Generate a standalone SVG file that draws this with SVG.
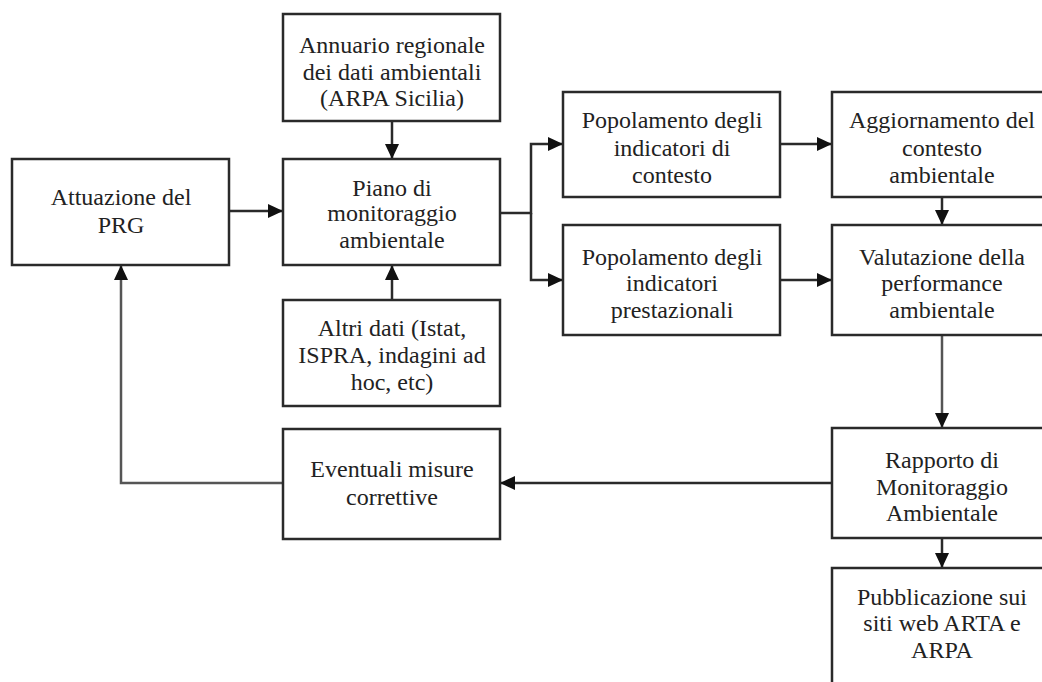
<svg xmlns="http://www.w3.org/2000/svg" width="1042" height="682" viewBox="0 0 1042 682">
  <style>
    .box { fill: #ffffff; stroke: #2a2a2a; stroke-width: 2.5; }
    .lbl { font-family: "Liberation Serif", "Times New Roman", serif; font-size: 24px; fill: #222222; text-anchor: middle; }
    .con { fill: none; stroke: #2a2a2a; stroke-width: 2.5; }
    .con.light { stroke: #555555; }
  </style>
  <defs>
    <marker id="ah" markerUnits="userSpaceOnUse" markerWidth="16" markerHeight="14" refX="15" refY="7" orient="auto">
      <path d="M0,0 L15,7 L0,14 z" fill="#111111"/>
    </marker>
  </defs>
  <rect x="0" y="0" width="1042" height="682" fill="#ffffff"/>

  <g id="connectors">
    <path class="con" d="M392,121 V159" marker-end="url(#ah)"/>
    <path class="con" d="M392,300 V265" marker-end="url(#ah)"/>
    <path class="con" d="M229,211 H283" marker-end="url(#ah)"/>
    <path class="con" d="M500,213 H531 V144 H563" marker-end="url(#ah)"/>
    <path class="con" d="M531,213 V280 H563" marker-end="url(#ah)"/>
    <path class="con" d="M780,144 H832" marker-end="url(#ah)"/>
    <path class="con" d="M780,280 H832" marker-end="url(#ah)"/>
    <path class="con" d="M942,197 V225" marker-end="url(#ah)"/>
    <path class="con light" d="M942,335 V428" marker-end="url(#ah)"/>
    <path class="con" d="M942,538 V568" marker-end="url(#ah)"/>
    <path class="con" d="M832,483 H500" marker-end="url(#ah)"/>
    <path class="con light" d="M283,483 H121 V265" marker-end="url(#ah)"/>
  </g>

  <g id="annuario">
    <rect class="box" x="283" y="14" width="217" height="107"/>
    <text class="lbl" x="392" y="53">Annuario regionale</text>
    <text class="lbl" x="392" y="80">dei dati ambientali</text>
    <text class="lbl" x="392" y="106">(ARPA Sicilia)</text>
  </g>
  <g id="attuazione">
    <rect class="box" x="12" y="159" width="217" height="106"/>
    <text class="lbl" x="121" y="205">Attuazione del</text>
    <text class="lbl" x="121" y="233">PRG</text>
  </g>
  <g id="piano">
    <rect class="box" x="283" y="159" width="217" height="106"/>
    <text class="lbl" x="392" y="196">Piano di</text>
    <text class="lbl" x="392" y="221">monitoraggio</text>
    <text class="lbl" x="392" y="248">ambientale</text>
  </g>
  <g id="altri">
    <rect class="box" x="283" y="300" width="217" height="106"/>
    <text class="lbl" x="392" y="336">Altri dati (Istat,</text>
    <text class="lbl" x="392" y="363">ISPRA, indagini ad</text>
    <text class="lbl" x="392" y="390">hoc, etc)</text>
  </g>
  <g id="eventuali">
    <rect class="box" x="283" y="429" width="217" height="110"/>
    <text class="lbl" x="392" y="477">Eventuali misure</text>
    <text class="lbl" x="392" y="505">correttive</text>
  </g>
  <g id="pop-contesto">
    <rect class="box" x="563" y="92" width="217" height="105"/>
    <text class="lbl" x="672" y="128">Popolamento degli</text>
    <text class="lbl" x="672" y="156">indicatori di</text>
    <text class="lbl" x="672" y="183">contesto</text>
  </g>
  <g id="pop-prestazionali">
    <rect class="box" x="563" y="225" width="217" height="110"/>
    <text class="lbl" x="672" y="265">Popolamento degli</text>
    <text class="lbl" x="672" y="291">indicatori</text>
    <text class="lbl" x="672" y="318">prestazionali</text>
  </g>
  <g id="aggiornamento">
    <rect class="box" x="832" y="92" width="220" height="105"/>
    <text class="lbl" x="942" y="128">Aggiornamento del</text>
    <text class="lbl" x="942" y="156">contesto</text>
    <text class="lbl" x="942" y="183">ambientale</text>
  </g>
  <g id="valutazione">
    <rect class="box" x="832" y="225" width="220" height="110"/>
    <text class="lbl" x="942" y="265">Valutazione della</text>
    <text class="lbl" x="942" y="291">performance</text>
    <text class="lbl" x="942" y="318">ambientale</text>
  </g>
  <g id="rapporto">
    <rect class="box" x="832" y="428" width="220" height="110"/>
    <text class="lbl" x="942" y="468">Rapporto di</text>
    <text class="lbl" x="942" y="495">Monitoraggio</text>
    <text class="lbl" x="942" y="521">Ambientale</text>
  </g>
  <g id="pubblicazione">
    <rect class="box" x="832" y="568" width="220" height="130"/>
    <text class="lbl" x="942" y="605">Pubblicazione sui</text>
    <text class="lbl" x="942" y="631">siti web ARTA e</text>
    <text class="lbl" x="942" y="658">ARPA</text>
  </g>
</svg>
